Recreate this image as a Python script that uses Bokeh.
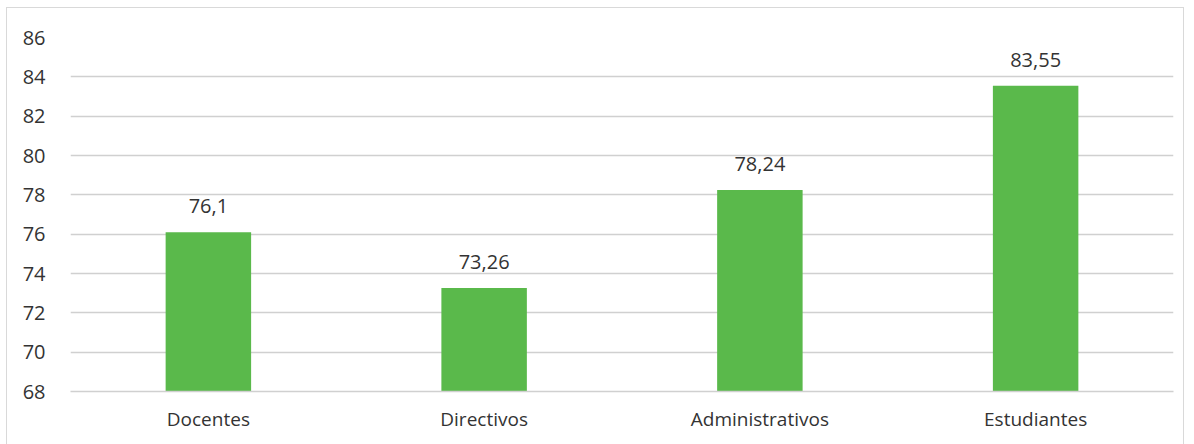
from bokeh.plotting import figure
from bokeh.models import ColumnDataSource, LabelSet, FixedTicker, Range1d
from bokeh.core.properties import value
from bokeh.embed import file_html
from bokeh.resources import INLINE

categories = ["Docentes", "Directivos", "Administrativos", "Estudiantes"]
values = [76.1, 73.26, 78.24, 83.55]
y_ticks = [68, 70, 72, 74, 76, 78, 80, 82, 84, 86]

labels = [str(v).replace(".", ",") for v in values]
src = ColumnDataSource(dict(cat=categories, val=values, lab=labels))

FONT = "Open Sans"
TXT = "#333333"

p = figure(x_range=categories, y_range=Range1d(68, 86), width=1178, height=437,
           output_backend="svg", toolbar_location=None,
           min_border_left=63, min_border_right=12, min_border_top=29, min_border_bottom=54)
p.margin = (7, 0, 0, 6)
p.styles = {"border-top": "1px solid #d9d9d9", "border-left": "1px solid #d9d9d9",
            "border-right": "1px solid #d9d9d9"}
p.outline_line_color = None

p.vbar(x="cat", top="val", bottom=68, width=0.31, source=src,
       fill_color="#5ab94b", line_color=None)

p.add_layout(LabelSet(x="cat", y="val", text="lab", source=src, text_align="center",
                      text_baseline="middle", y_offset=26, text_font_size="20px",
                      text_font=value(FONT), text_color=TXT))

p.xgrid.grid_line_color = None
p.ygrid.grid_line_color = "#d0d0d0"
p.ygrid.grid_line_width = 1.5
p.ygrid.ticker = FixedTicker(ticks=y_ticks)

p.yaxis.ticker = FixedTicker(ticks=y_ticks)
p.yaxis.axis_line_color = None
p.yaxis.major_tick_line_color = None
p.yaxis.minor_tick_line_color = None
p.yaxis.major_label_standoff = 19
p.yaxis.major_label_text_font_size = "20px"
p.yaxis.major_label_text_font = FONT
p.yaxis.major_label_text_color = TXT

p.xaxis.axis_line_color = "#d0d0d0"
p.xaxis.axis_line_width = 1.5
p.xaxis.major_tick_line_color = None
p.xaxis.minor_tick_line_color = None
p.xaxis.major_label_standoff = 8
p.xaxis.major_label_text_font_size = "19px"
p.xaxis.major_label_text_font = FONT
p.xaxis.major_label_text_color = TXT

open("out.html", "w").write(file_html(p, INLINE))
